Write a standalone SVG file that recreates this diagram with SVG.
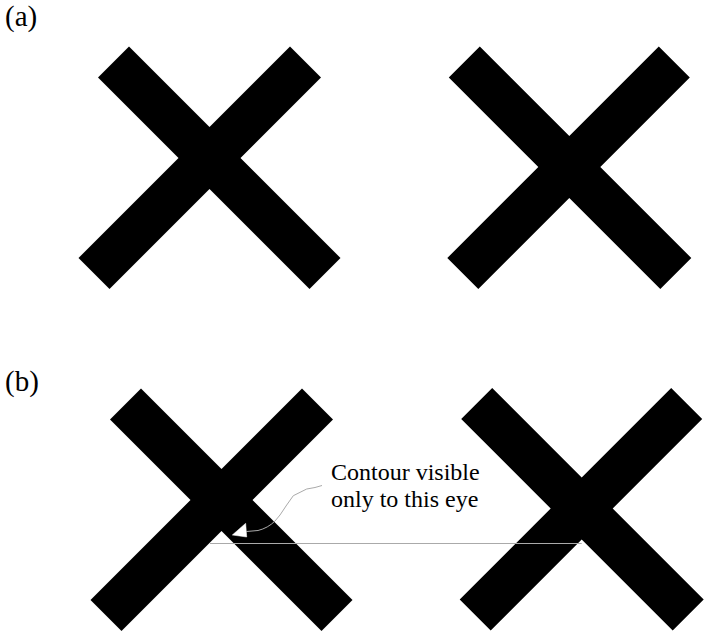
<svg xmlns="http://www.w3.org/2000/svg" width="710" height="634" viewBox="0 0 710 634">
<style>
.lbl{font-family:"Liberation Serif","Times New Roman",serif;font-size:29px;fill:#000}
.txt{font-family:"Liberation Serif","Times New Roman",serif;font-size:24px;fill:#000}
.cross{fill:#000}
.thin{fill:none;stroke:#aaaaaa;stroke-width:1}
</style>
<defs>
<path id="xA" d="M -80.5,-111.5 L 0,-31 L 80.5,-111.5 L 111.5,-80.5 L 31,0 L 131,100 L 100,131 L 0,31 L -100,131 L -131,100 L -31,0 L -111.5,-80.5 Z"/>
<path id="xB" d="M -89.5,-120.5 L 0,-31 L 89.5,-120.5 L 120.5,-89.5 L 31,0 L 122,91 L 91,122 L 0,31 L -91,122 L -122,91 L -31,0 L -120.5,-89.5 Z"/>
</defs>
<rect width="710" height="634" fill="#fff"/>
<g id="label-a"><text class="lbl" x="5" y="26">(a)</text></g>
<g id="label-b"><text class="lbl" x="5" y="391">(b)</text></g>
<g id="cross-a-left"><use href="#xA" class="cross" transform="translate(209.5,158)"/></g>
<g id="cross-a-right"><use href="#xB" class="cross" transform="translate(569.3,167)"/></g>
<g id="cross-b-left"><use href="#xA" class="cross" transform="translate(221.5,500)"/></g>
<g id="cross-b-right"><use href="#xB" class="cross" transform="translate(581.7,508.5)"/></g>
<g id="annotation"><text class="txt" x="331" y="480">Contour visible</text><text class="txt" x="331" y="507">only to this eye</text></g>
<g id="connectors">
<line class="thin" x1="210" y1="543.5" x2="581.7" y2="543.5"/>
<path class="thin" d="M 322,485.5 L 315,487.5 L 306.7,489 L 293.3,495.7 L 286.7,505 L 280,515 L 275,521 Q 268,528 258,530.5 L 246.5,531.5"/>
<polygon points="232.3,535 245.7,523.3 246.7,537" fill="#fff" stroke="#fff" stroke-width="0.5"/>
</g>
</svg>
